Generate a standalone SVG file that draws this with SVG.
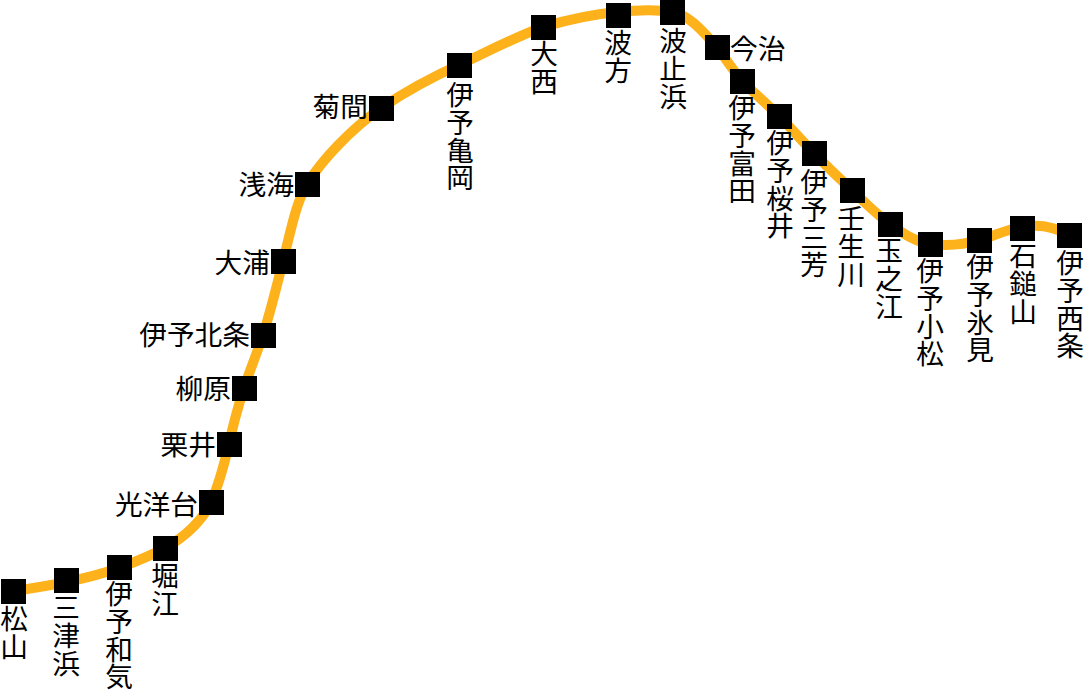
<svg xmlns="http://www.w3.org/2000/svg" width="1085" height="691" viewBox="0 0 1085 691">
<style>
.l{fill:none;stroke:#fdb11b;stroke-width:10}
rect{fill:#000}
text{font-family:"Noto Sans CJK JP","Liberation Sans",sans-serif;font-size:27.7px;font-weight:400;fill:#000}
.v{writing-mode:vertical-rl;text-orientation:upright;text-anchor:start}
.h{text-anchor:end}
</style>
<rect width="1085" height="691" style="fill:#fff"/>
<g id="connectors"><path class="l" d="M13 591C50 586 90 578 119 568C135 562 150 556 165 548C185 537 203 520 211 502C219 485 224 465 229 444C233 425 238 407 244 388C250 370 257 353 263 335C271 310 277 285 283 261C290 235 295 205 307 184C322 160 350 130 381 108C405 92 430 78 459 65C487 52 515 37 543 27C570 19 595 14 618 12C637 10 655 9 672 12C690 15 704 33 717 47C725 58 733 70 742 81C754 93 767 104 779 116C791 128 802 141 814 153C826 166 839 178 852 190C864 202 876 214 890 224C903 234 916 242 930 244C947 246 963 245 979 240C994 236 1008 229 1022 227C1038 224 1053 226 1069 235"/></g>
<g id="s1"><rect x="1" y="579" width="25" height="25"/><text class="v" x="14" y="605">松山</text></g>
<g id="s2"><rect x="54" y="568" width="25" height="25"/><text class="v" x="66" y="594">三津浜</text></g>
<g id="s3"><rect x="107" y="555" width="25" height="25"/><text class="v" x="119" y="580">伊予和気</text></g>
<g id="s4"><rect x="153" y="536" width="25" height="25"/><text class="v" x="165" y="562">堀江</text></g>
<g id="s5"><rect x="199" y="490" width="25" height="25"/><text class="h" x="198" y="515">光洋台</text></g>
<g id="s6"><rect x="217" y="432" width="25" height="25"/><text class="h" x="216" y="455">栗井</text></g>
<g id="s7"><rect x="232" y="376" width="25" height="25"/><text class="h" x="231" y="399">柳原</text></g>
<g id="s8"><rect x="251" y="323" width="25" height="25"/><text class="h" x="250" y="345">伊予北条</text></g>
<g id="s9"><rect x="271" y="249" width="25" height="25"/><text class="h" x="270" y="273">大浦</text></g>
<g id="s10"><rect x="295" y="172" width="25" height="25"/><text class="h" x="294" y="195">浅海</text></g>
<g id="s11"><rect x="369" y="96" width="25" height="25"/><text class="h" x="368" y="117">菊間</text></g>
<g id="s12"><rect x="447" y="53" width="25" height="25"/><text class="v" x="460" y="81">伊予亀岡</text></g>
<g id="s13"><rect x="531" y="15" width="25" height="25"/><text class="v" x="544" y="40">大西</text></g>
<g id="s14"><rect x="606" y="3" width="25" height="25"/><text class="v" x="618" y="29">波方</text></g>
<g id="s15"><rect x="660" y="0" width="25" height="25"/><text class="v" x="673" y="27">波止浜</text></g>
<g id="s16"><rect x="705" y="35" width="25" height="25"/><text x="730" y="59">今治</text></g>
<g id="s17"><rect x="730" y="69" width="25" height="25"/><text class="v" x="742" y="94">伊予富田</text></g>
<g id="s18"><rect x="767" y="104" width="25" height="25"/><text class="v" x="780" y="129">伊予桜井</text></g>
<g id="s19"><rect x="802" y="141" width="25" height="25"/><text class="v" x="814" y="168">伊予三芳</text></g>
<g id="s20"><rect x="840" y="178" width="25" height="25"/><text class="v" x="851" y="205">壬生川</text></g>
<g id="s21"><rect x="878" y="212" width="25" height="25"/><text class="v" x="889" y="237">玉之江</text></g>
<g id="s22"><rect x="918" y="232" width="25" height="25"/><text class="v" x="930" y="257">伊予小松</text></g>
<g id="s23"><rect x="967" y="228" width="25" height="25"/><text class="v" x="980" y="253">伊予氷見</text></g>
<g id="s24"><rect x="1010" y="216" width="25" height="25"/><text class="v" x="1023" y="242">石鎚山</text></g>
<g id="s25"><rect x="1057" y="223" width="25" height="25"/><text class="v" x="1070" y="249">伊予西条</text></g>
</svg>
